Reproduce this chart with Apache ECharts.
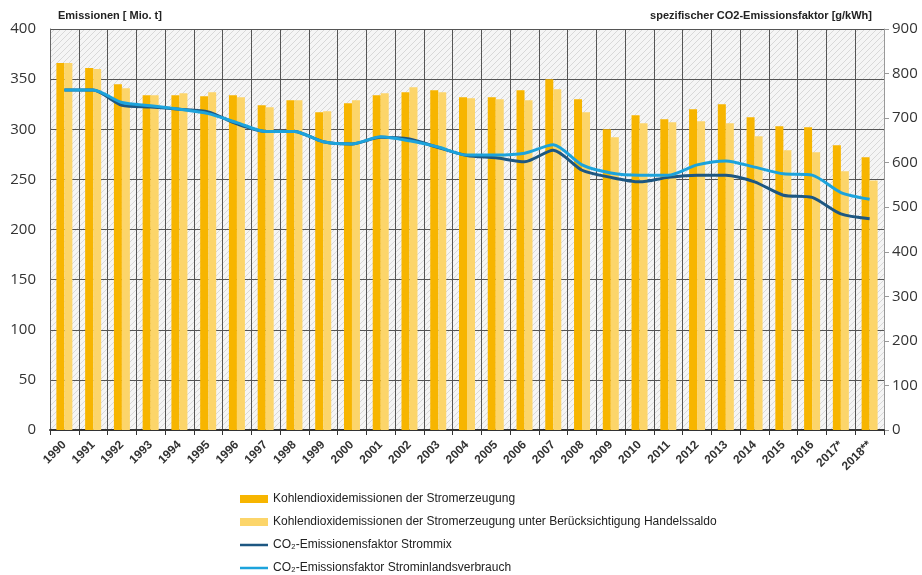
<!DOCTYPE html>
<html>
<head>
<meta charset="utf-8">
<script src="https://cdn.jsdelivr.net/npm/echarts@6/dist/echarts.min.js"></script>
<style>
  html, body { margin: 0; padding: 0; background: #ffffff; }
  #chart { width: 922px; height: 575px; }
</style>
</head>
<body>
<div id="chart"></div>
<script>
// Years on the category axis
const years = ['1990','1991','1992','1993','1994','1995','1996','1997','1998','1999',
  '2000','2001','2002','2003','2004','2005','2006','2007','2008','2009',
  '2010','2011','2012','2013','2014','2015','2016','2017*','2018**'];

// CO2 emissions of power generation [Mio. t]
const emissionsGeneration = [366, 361, 345, 334, 334, 333, 334, 324, 329, 317,
  326, 334, 337, 339, 332, 332, 339, 350, 330, 300,
  314, 310, 320, 325, 312, 303, 302, 284, 272];

// CO2 emissions of power generation, adjusted for trade balance [Mio. t]
const emissionsTradeAdjusted = [366, 360, 341, 334, 336, 337, 332, 322, 329, 318,
  329, 336, 342, 337, 331, 330, 329, 340, 317, 292,
  306, 307, 308, 306, 293, 279, 277, 258, 249];

// CO2 emission factor electricity mix [g/kWh]
const factorMix = [763, 763, 729, 725, 720, 714, 687, 670, 670, 647,
  642, 657, 653, 634, 616, 611, 602, 628, 583, 567,
  557, 567, 572, 572, 557, 527, 522, 485, 474];

// CO2 emission factor domestic electricity consumption [g/kWh]
const factorConsumption = [763, 763, 735, 728, 720, 710, 690, 670, 670, 647,
  642, 658, 649, 635, 617, 617, 621, 640, 595, 577,
  572, 572, 595, 604, 590, 575, 572, 533, 518];

const leftTicksMax = 400, leftInterval = 50;
const rightTicksMax = 900, rightInterval = 100;

const names = [
  'Kohlendioxidemissionen der Stromerzeugung',
  'Kohlendioxidemissionen der Stromerzeugung unter Berücksichtigung Handelssaldo',
  'CO\u2082-Emissionensfaktor Strommix',
  'CO\u2082-Emissionsfaktor Strominlandsverbrauch'
];

// Legend glyph for the lines: a horizontal stroke centred in the icon box
const lineIcon = 'path://M0,0 L0.01,0 Z M0,2.6 L30,2.6 L30,5.4 L0,5.4 Z M0,8 L0.01,8 Z';

// Light grey hatched fill for the plot background
function hatchPattern() {
  const c = document.createElement('canvas');
  c.width = 6; c.height = 6;
  const g = c.getContext('2d');
  g.fillStyle = '#f5f5f5';
  g.fillRect(0, 0, 6, 6);
  g.strokeStyle = '#d8d8d8';
  g.lineWidth = 1;
  g.beginPath();
  g.moveTo(0, 6); g.lineTo(6, 0);
  g.moveTo(-3, 3); g.lineTo(3, -3);
  g.moveTo(3, 9); g.lineTo(9, 3);
  g.stroke();
  return { image: c, repeat: 'repeat' };
}

const font = "'Liberation Sans', Arial, sans-serif";

const chart = echarts.init(document.getElementById('chart'), null, { renderer: 'canvas' });
chart.setOption({
  animation: false,
  textStyle: { fontFamily: font },
  grid: {
    left: 50, right: 38, top: 29, bottom: 145,
    show: true,
    backgroundColor: hatchPattern(),
    borderWidth: 0
  },
  legend: {
    orient: 'vertical',
    left: 240, top: 493,
    height: 82,
    padding: 0,
    itemGap: 11,
    itemWidth: 28, itemHeight: 8,
    textStyle: { fontFamily: font, fontSize: 12, lineHeight: 12, color: '#222' },
    data: [
      { name: names[0], icon: 'rect' },
      { name: names[1], icon: 'rect' },
      { name: names[2], icon: lineIcon },
      { name: names[3], icon: lineIcon }
    ]
  },
  xAxis: {
    type: 'category',
    data: years,
    boundaryGap: true,
    axisLine: { lineStyle: { color: '#333', width: 2 } },
    axisTick: { show: true, alignWithLabel: false, length: 5, lineStyle: { color: '#333' } },
    axisLabel: {
      rotate: 45, interval: 0, margin: 13,
      fontFamily: font, fontSize: 12, fontWeight: 'bold', color: '#333'
    },
    splitLine: { show: true, lineStyle: { color: '#555', width: 1 } }
  },
  yAxis: [
    {
      type: 'value',
      min: 0, max: leftTicksMax, interval: leftInterval,
      name: 'Emissionen [ Mio. t]',
      nameLocation: 'end',
      nameGap: 8,
      nameTextStyle: { align: 'left', fontFamily: font, fontSize: 11, fontWeight: 'bold', color: '#222', padding: [0, 0, 0, 8] },
      axisLine: { show: true, lineStyle: { color: '#666', width: 1 } },
      axisTick: { show: false },
      axisLabel: { fontFamily: "'Open Sans', sans-serif", fontSize: 15, color: '#333', margin: 14 },
      splitLine: { show: true, lineStyle: { color: '#555', width: 1.2 } }
    },
    {
      type: 'value',
      min: 0, max: rightTicksMax, interval: rightInterval,
      name: 'spezifischer CO2-Emissionsfaktor [g/kWh]',
      nameLocation: 'end',
      nameGap: 8,
      nameTextStyle: { align: 'right', fontFamily: font, fontSize: 11, fontWeight: 'bold', color: '#222', padding: [0, 12, 0, 0] },
      axisLine: { show: true, lineStyle: { color: '#999', width: 1 } },
      axisTick: { show: true, inside: false, length: 5, lineStyle: { color: '#999' } },
      axisLabel: { fontFamily: "'Open Sans', sans-serif", fontSize: 15, color: '#333', margin: 8 },
      splitLine: { show: false }
    }
  ],
  series: [
    {
      name: names[0], type: 'bar', yAxisIndex: 0,
      data: emissionsGeneration,
      barWidth: 8, barGap: '0%',
      itemStyle: { color: '#f7b500' }
    },
    {
      name: names[1], type: 'bar', yAxisIndex: 0,
      data: emissionsTradeAdjusted,
      barWidth: 8, barGap: '0%',
      itemStyle: { color: '#fcd56a' }
    },
    {
      name: names[2], type: 'line', yAxisIndex: 1,
      data: factorMix,
      symbol: 'none', smooth: 0.25,
      lineStyle: { color: '#1d5782', width: 3 },
      itemStyle: { color: '#1d5782' },
      z: 4
    },
    {
      name: names[3], type: 'line', yAxisIndex: 1,
      data: factorConsumption,
      symbol: 'none', smooth: 0.25,
      lineStyle: { color: '#1ca3dc', width: 3 },
      itemStyle: { color: '#1ca3dc' },
      z: 5
    }
  ]
});
</script>
</body>
</html>
